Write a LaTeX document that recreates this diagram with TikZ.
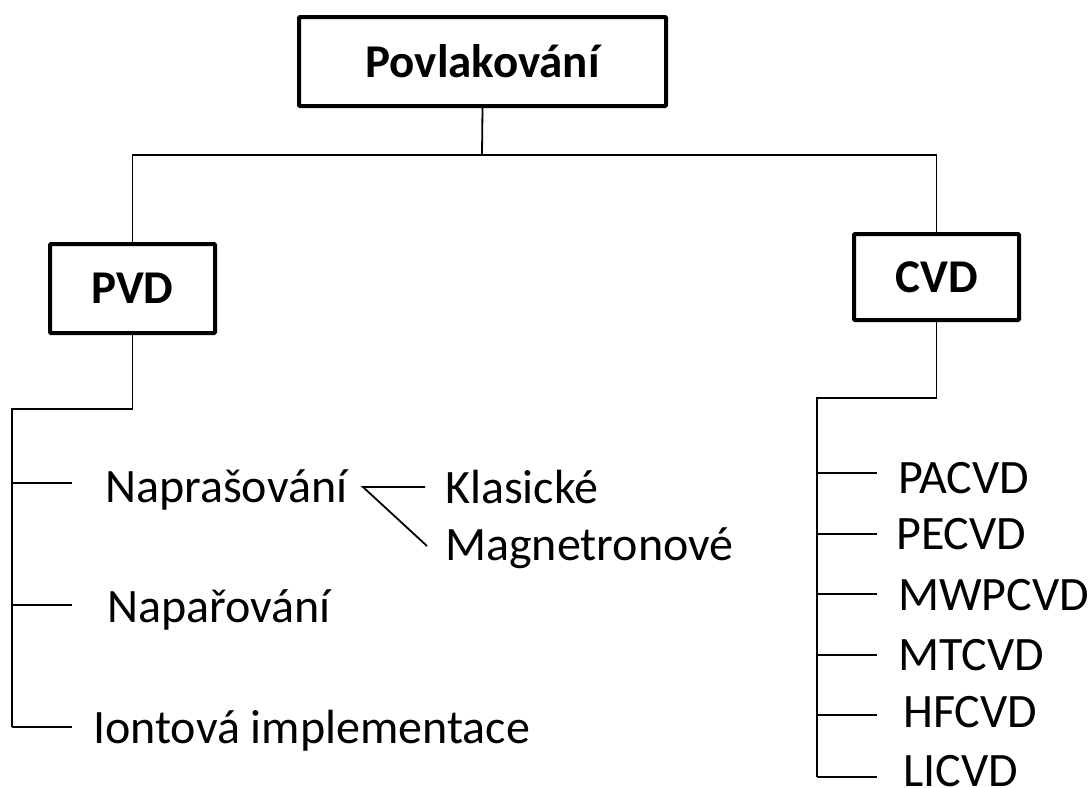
\documentclass[tikz,border=0pt]{standalone}
\usepackage{fontspec}
\setmainfont{Carlito}
\usetikzlibrary{positioning}
\tikzset{
  box/.style={draw, line width=4pt, rounded corners=1pt, inner sep=0pt, font=\fontsize{47}{52}\selectfont\bfseries},
  item/.style={anchor=base west, inner sep=0pt, font=\fontsize{48}{52}\selectfont},
  conn/.style={line width=1.8pt}
}

\begin{document}
\begin{tikzpicture}[x=1pt,y=-1pt]
\useasboundingbox (0,0) rectangle (1091,787);

% boxes
\node[box, minimum width=367pt, minimum height=89pt] (povl) at (482.5,61.5) {Povlakování};
\node[box, minimum width=165pt, minimum height=89pt] (pvd) at (132.5,288.5) {PVD};
\node[box, minimum width=165pt, minimum height=86pt] (cvd) at (936.5,277) {CVD};

\coordinate (split) at (482,155);
\draw[conn] (povl.south) -- (split);
\draw[conn] (pvd.north) |- (split) -| (cvd.north);

% PVD branch
\coordinate (pvdtrunk) at (12,409);
\coordinate (pvdend) at (12,727);
\draw[conn] (pvd.south) |- (pvdtrunk) -- (pvdend);

\node[item] (napras) at (105,502) {Naprašování};
\node[item] (naparov) at (107,622) {Napařování};
\node[item] (iont) at (93,743) {Iontová implementace};
\coordinate (naprastick) at (72,483);
\coordinate (naparovtick) at (72,605);
\coordinate (ionttick) at (72,727);
\draw[conn] (pvdtrunk |- naprastick) -- (naprastick);
\draw[conn] (pvdtrunk |- naparovtick) -- (naparovtick);
\draw[conn] (pvdend) -- (ionttick);

\node[item] (klas) at (445,503) {Klasické};
\node[item] (magnet) at (445,560) {Magnetronové};
\coordinate (fork) at (363,487);
\coordinate (klasend) at (425,487);
\coordinate (magnetend) at (427,546);
\draw[conn] (klasend) -- (fork) -- (magnetend);

% CVD branch
\coordinate (cvdtrunk) at (817,398);
\coordinate (cvdend) at (817,777);
\draw[conn] (cvd.south) |- (cvdtrunk) -- (cvdend);

\foreach \name/\ty/\tx/\by in {PACVD/473/898/493, PECVD/534/896/549, MWPCVD/594/898/610,
  MTCVD/655/898/670, HFCVD/715/903/727, LICVD/777/903/786}{
  \node[item] (\name) at (\tx,\by) {\name};
  \coordinate (\name tick) at (877,\ty);
  \draw[conn] (cvdtrunk |- \name tick) -- (\name tick);
}

\end{tikzpicture}
\end{document}
